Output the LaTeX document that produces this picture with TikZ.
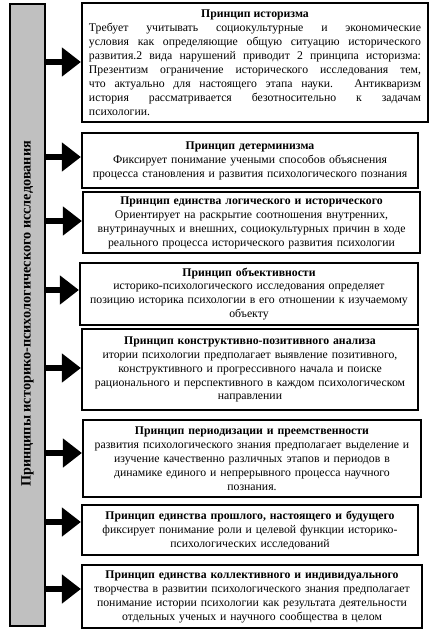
\documentclass[tikz,border=0pt]{standalone}
\usepackage{fontspec}
\setmainfont{Liberation Serif}
\usetikzlibrary{arrows.meta}
\definecolor{bargray}{HTML}{C0C0C0}
\tikzset{
  pbox/.style={draw=black, line width=2.2bp, fill=white, inner sep=0pt,
    align=center, font=\fontsize{11.8}{14}\selectfont},
  parrow/.style={line width=6.5bp, -{Triangle[length=19bp,width=28bp]}},
}
\begin{document}
\begin{tikzpicture}[x=1bp,y=-1bp]
\useasboundingbox (0,0) rectangle (432,636);
\node[draw=black, line width=2.2bp, fill=bargray, minimum width=35bp, minimum height=622bp, inner sep=0pt] (bar) at (27.5,315) {};
\node[rotate=90, font=\fontsize{14.3}{16}\selectfont\bfseries] (lbl) at (27.5,314) {Принципы историко-психологического исследования};

\node[pbox, minimum width=346bp, minimum height=119bp, text width=332bp, align=justify] (b1) at (255,62.5) {%
\hspace*{\fill}\textbf{Принцип историзма}\hspace*{\fill}\linebreak
Требует учитывать социокультурные и экономические\linebreak
условия как определяющие общую ситуацию исторического\linebreak
развития.2 вида нарушений приводит 2 принципа историзма:\linebreak
Презентизм ограничение исторического исследования тем,\linebreak
что актуально для настоящего этапа науки. Антикваризм\linebreak
история рассматривается безотносительно к задачам\linebreak
психологии.};

\node[pbox, minimum width=336bp, minimum height=55bp, text width=330bp] (b2) at (250,160.5) {%
\textbf{Принцип детерминизма}\\
Фиксирует понимание учеными способов объяснения\\
процесса становления и развития психологического познания};

\node[pbox, minimum width=337bp, minimum height=61bp, text width=331bp] (b3) at (251.5,222.5) {%
\textbf{Принцип единства логического и исторического}\\
Ориентирует на раскрытие соотношения внутренних,\\
внутринаучных и внешних, социокультурных причин в ходе\\
реального процесса исторического развития психологии};

\node[pbox, minimum width=338bp, minimum height=62bp, text width=332bp] (b4) at (249,294) {%
\textbf{Принцип объективности}\\
историко-психологического исследования определяет\\
позицию историка психологии в его отношении к изучаемому\\
объекту};

\node[pbox, minimum width=336bp, minimum height=81bp, text width=330bp] (b5) at (250,369.5) {%
\textbf{Принцип конструктивно-позитивного анализа}\\
итории психологии предполагает выявление позитивного,\\
конструктивного и прогрессивного начала и поиске\\
рационального и перспективного в каждом психологическом\\
направлении};

\node[pbox, minimum width=338bp, minimum height=77bp, text width=332bp] (b6) at (252,458.5) {%
\textbf{Принцип периодизации и преемственности}\\
развития психологического знания предполагает выделение и\\
изучение качественно различных этапов и периодов в\\
динамике единого и непрерывного процесса научного\\
познания.};

\node[pbox, minimum width=336bp, minimum height=50bp, text width=330bp] (b7) at (250,530) {%
\textbf{Принцип единства прошлого, настоящего и будущего}\\
фиксирует понимание роли и целевой функции историко-\\
психологических исследований};

\node[pbox, minimum width=340bp, minimum height=63bp, text width=334bp] (b8) at (252,596.5) {%
\textbf{Принцип единства коллективного и индивидуального}\\
творчества в развитии психологического знания предполагает\\
понимание истории психологии как результата деятельности\\
отдельных ученых и научного сообщества в целом};

\coordinate (a1) at (0,62);
\coordinate (a2) at (0,157);
\coordinate (a3) at (0,221);
\coordinate (a4) at (0,290);
\coordinate (a5) at (0,368);
\coordinate (a6) at (0,453);
\coordinate (a7) at (0,522);
\coordinate (a8) at (0,589);
\foreach \i in {1,...,8}{
  \draw[parrow] (bar.east |- a\i) -- (b\i.west |- a\i);
}
\end{tikzpicture}
\end{document}
